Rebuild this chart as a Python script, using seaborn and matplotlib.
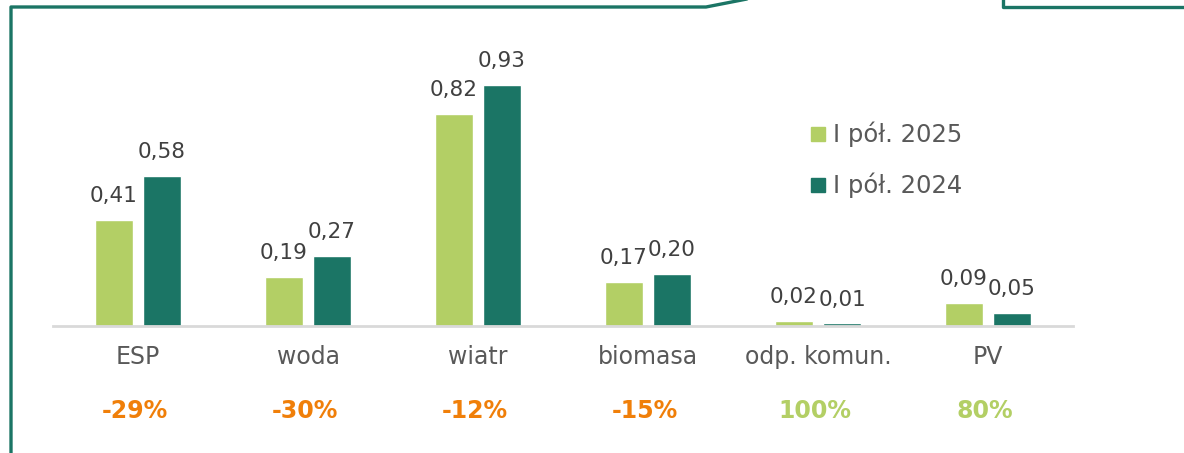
import pandas as pd
import matplotlib.pyplot as plt
from matplotlib.lines import Line2D
import seaborn as sns

categories = ['ESP', 'woda', 'wiatr', 'biomasa', 'odp. komun.', 'PV']
h1_2025 = [0.41, 0.19, 0.82, 0.17, 0.02, 0.09]
h1_2024 = [0.58, 0.27, 0.93, 0.20, 0.01, 0.05]
series = ['I pół. 2025', 'I pół. 2024']
changes = ['-29%', '-30%', '-12%', '-15%', '100%', '80%']

light = '#B3CF65'
dark = '#1B7565'
orange = '#F07F09'

df = pd.DataFrame({
    'kat': categories * 2,
    'okres': [series[0]] * 6 + [series[1]] * 6,
    'val': h1_2025 + h1_2024,
})

sns.set_style('white')
plt.rcParams['font.family'] = ['DejaVu Sans']

W, H = 1184, 453
fig = plt.figure(figsize=(W / 100, H / 100), dpi=100)
ax = fig.add_axes([53 / W, (H - 326) / H, (1073 - 53) / W, 285 / H])

sns.barplot(data=df, x='kat', y='val', hue='okres', order=categories,
            hue_order=series, palette=[light, dark], width=0.565, gap=0.19,
            saturation=1, ax=ax, legend=False)

ax.set_xlim(-0.5, 5.5)
ax.set_ylim(0, 1.1)
ax.set_xlabel('')
ax.set_ylabel('')
ax.set_yticks([])
ax.set_xticks([])
for s in ['top', 'right', 'left']:
    ax.spines[s].set_visible(False)
ax.spines['bottom'].set_color('#D9D9D9')
ax.spines['bottom'].set_linewidth(2)

# value labels
for cont in ax.containers:
    ax.bar_label(cont, labels=[f'{v:.2f}'.replace('.', ',') for v in cont.datavalues],
                 padding=10, fontsize=15.5, color='#404040')

# category labels and change percentages
for i, (cat, ch) in enumerate(zip(categories, changes)):
    ax.text(i, -0.12, cat, ha='center', va='center', fontsize=17, color='#595959')
    c = light if not ch.startswith('-') else orange
    ax.text(i - 0.02, -0.33, ch, ha='center', va='center', fontsize=17,
            fontweight='bold', color=c)

# legend
handles = [Line2D([], [], marker='s', linestyle='', markersize=10, color=light),
           Line2D([], [], marker='s', linestyle='', markersize=10, color=dark)]
fig.legend(handles, series, loc='upper left', bbox_to_anchor=(784 / W, 1 - 100 / H),
           frameon=False, fontsize=17.5, labelcolor='#595959', handletextpad=0.1,
           labelspacing=1.05, handlelength=1.0)

# frame decoration
fc = '#1B7565'
def fx(x):
    return x / W
def fy(y):
    return 1 - y / H
fig.add_artist(Line2D([fx(11), fx(11), fx(706), fx(752)],
                      [fy(H + 2), fy(7), fy(7), fy(-2)], color=fc, lw=2.4))
fig.add_artist(Line2D([fx(1003), fx(1003), fx(W + 2)],
                      [fy(-2), fy(7), fy(7)], color=fc, lw=2.4))

fig.savefig('out.png', dpi=100)
